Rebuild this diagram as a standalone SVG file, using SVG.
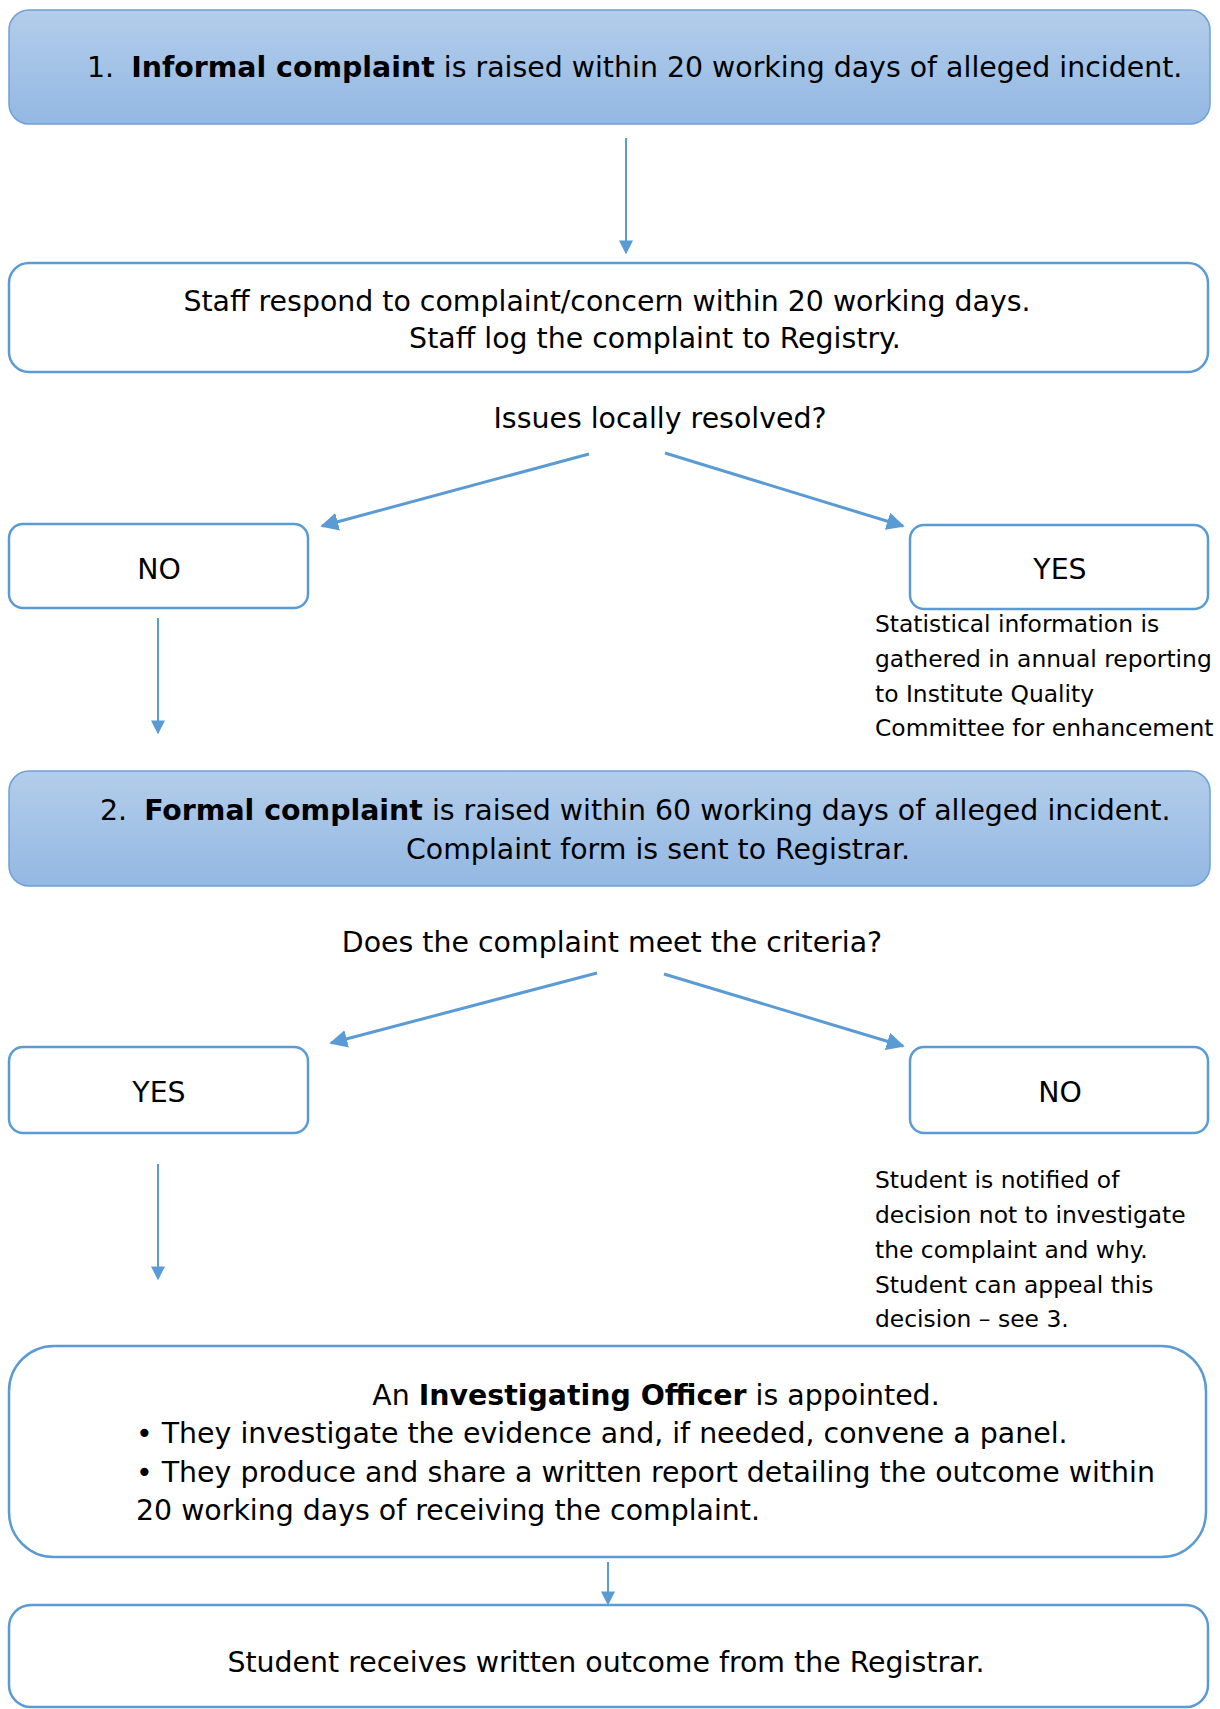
<svg xmlns="http://www.w3.org/2000/svg" width="1220" height="1709" viewBox="0 0 1220 1709">
<defs>
<linearGradient id="blueFill" x1="0" y1="0" x2="0" y2="1">
<stop offset="0" stop-color="#b3cdea"/>
<stop offset="1" stop-color="#93b8e3"/>
</linearGradient>
<marker id="arr" viewBox="0 0 10 10" refX="9" refY="5" markerWidth="7" markerHeight="7" markerUnits="strokeWidth" orient="auto">
<path d="M0,0 L10,5 L0,10 z" fill="#5b9bd5"/>
</marker>
<marker id="arrB" viewBox="0 0 10 10" refX="9" refY="5" markerWidth="6" markerHeight="6" markerUnits="strokeWidth" orient="auto">
<path d="M0,0 L10,5 L0,10 z" fill="#5b9bd5"/>
</marker>
</defs>
<style>
.blue{fill:url(#blueFill);stroke:#6fa0d8;stroke-width:1.5}
.white{fill:#ffffff;stroke:#5b9bd5;stroke-width:2.5}
text{font-family:"DejaVu Sans",Verdana,sans-serif;fill:#000000}
.t{font-size:28.4px}
.s{font-size:23.4px}
.c{text-anchor:middle}
.b{font-weight:bold}
.conn{stroke:#5b9bd5;stroke-width:2;fill:none}
.connB{stroke:#5b9bd5;stroke-width:3;fill:none}
</style>
<rect width="1220" height="1709" fill="#ffffff"/>

<g id="informal">
<rect class="blue" x="9" y="10" width="1201" height="114" rx="20"/>
<text class="t" x="87" y="77">1. <tspan class="b" dx="8">Informal complaint</tspan> is raised within 20 working days of alleged incident.</text>
</g>

<g id="staff">
<rect class="white" x="9" y="263" width="1199" height="109" rx="20"/>
<text class="t c" x="607" y="311">Staff respond to complaint/concern within 20 working days.</text>
<text class="t c" x="655" y="348">Staff log the complaint to Registry.</text>
</g>

<g id="q1">
<text class="t c" x="660" y="428">Issues locally resolved?</text>
</g>

<g id="no1">
<rect class="white" x="9" y="524" width="299" height="84" rx="14"/>
<text class="t c" x="159" y="579">NO</text>
</g>

<g id="yes1">
<rect class="white" x="910" y="525" width="298" height="84" rx="14"/>
<text class="t c" x="1060" y="579">YES</text>
</g>

<g id="stats">
<text class="s" x="875" y="632">Statistical information is</text>
<text class="s" x="875" y="667">gathered in annual reporting</text>
<text class="s" x="875" y="702">to Institute Quality</text>
<text class="s" x="875" y="736">Committee for enhancement</text>
</g>

<g id="formal">
<rect class="blue" x="9" y="771" width="1201" height="115" rx="20"/>
<text class="t" x="100" y="820">2. <tspan class="b" dx="8">Formal complaint</tspan> is raised within 60 working days of alleged incident.</text>
<text class="t c" x="658" y="859">Complaint form is sent to Registrar.</text>
</g>

<g id="q2">
<text class="t c" x="612" y="952">Does the complaint meet the criteria?</text>
</g>

<g id="yes2">
<rect class="white" x="9" y="1047" width="299" height="86" rx="14"/>
<text class="t c" x="159" y="1102">YES</text>
</g>

<g id="no2">
<rect class="white" x="910" y="1047" width="298" height="86" rx="14"/>
<text class="t c" x="1060" y="1102">NO</text>
</g>

<g id="notified">
<text class="s" x="875" y="1188">Student is notified of</text>
<text class="s" x="875" y="1223">decision not to investigate</text>
<text class="s" x="875" y="1258">the complaint and why.</text>
<text class="s" x="875" y="1293">Student can appeal this</text>
<text class="s" x="875" y="1327">decision – see 3.</text>
</g>

<g id="investigating">
<rect class="white" x="9" y="1346" width="1197" height="211" rx="45"/>
<text class="t c" x="656" y="1405">An <tspan class="b">Investigating Officer</tspan> is appointed.</text>
<text class="t" x="136" y="1443">• They investigate the evidence and, if needed, convene a panel.</text>
<text class="t" x="136" y="1482">• They produce and share a written report detailing the outcome within</text>
<text class="t" x="136" y="1520">20 working days of receiving the complaint.</text>
</g>

<g id="outcome">
<rect class="white" x="9" y="1605" width="1199" height="102" rx="22"/>
<text class="t c" x="606" y="1672">Student receives written outcome from the Registrar.</text>
</g>

<g id="connectors">
<line class="conn" x1="626" y1="138" x2="626" y2="253" marker-end="url(#arr)"/>
<line class="connB" x1="589" y1="454" x2="322" y2="526" marker-end="url(#arrB)"/>
<line class="connB" x1="665" y1="453" x2="903" y2="526" marker-end="url(#arrB)"/>
<line class="conn" x1="158" y1="618" x2="158" y2="733" marker-end="url(#arr)"/>
<line class="connB" x1="597" y1="973" x2="331" y2="1043" marker-end="url(#arrB)"/>
<line class="connB" x1="664" y1="974" x2="903" y2="1046" marker-end="url(#arrB)"/>
<line class="conn" x1="158" y1="1164" x2="158" y2="1279" marker-end="url(#arr)"/>
<line class="conn" x1="608" y1="1562" x2="608" y2="1604" marker-end="url(#arr)"/>
</g>
</svg>
